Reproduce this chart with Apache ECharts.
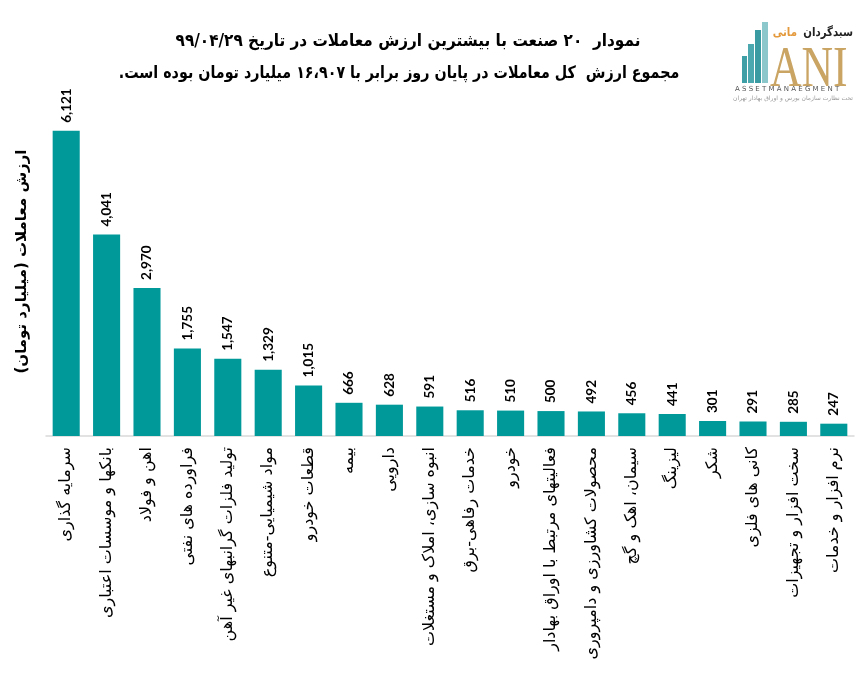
<!DOCTYPE html>
<html>
<head>
<meta charset="utf-8">
<script src="https://cdn.jsdelivr.net/npm/echarts@6/dist/echarts.min.js"></script>
<style>
  html, body { margin: 0; padding: 0; background: #fff; }
  #main { width: 863px; height: 676px; }
</style>
</head>
<body>
<div id="main"></div>
<script>
const RLE = '\u202B', PDF = '\u202C';

const industries = [
  'سرمایه گذاری',
  'بانکها و موسسات اعتباری',
  'اهن و فولاد',
  'فراورده های نفتی',
  'تولید فلزات گرانبهای غیر آهن',
  'مواد شیمیایی‑متنوع',
  'قطعات خودرو',
  'بیمه',
  'دارویی',
  'انبوه سازی، املاک و مستغلات',
  'خدمات رفاهی‑برق',
  'خودرو',
  'فعالیتهای مرتبط با اوراق بهادار',
  'محصولات کشاورزی و دامپروری',
  'سیمان، اهک و گچ',
  'لیزینگ',
  'شکر',
  'کانی های فلزی',
  'سخت افزار و تجهیزات',
  'نرم افزار و خدمات'
];
const tradeValues = [6121, 4041, 2970, 1755, 1547, 1329, 1015, 666, 628, 591, 516, 510, 500, 492, 456, 441, 301, 291, 285, 247];

const titleLines = [
  'نمودار  ۲۰ صنعت با بیشترین ارزش معاملات در تاریخ ۹۹/۰۴/۲۹',
  'مجموع ارزش  کل معاملات در پایان روز برابر با ۱۶،۹۰۷ میلیارد تومان بوده است.'
];
const yAxisTitle = 'ارزش معاملات (میلیارد تومان)';

const faFont = '"DejaVu Sans", sans-serif';
const teal = '#009999';

const chart = echarts.init(document.getElementById('main'));

chart.setOption({
  animation: false,
  backgroundColor: '#fff',
  grid: { left: 46, right: 9, top: 87, bottom: 240 },
  xAxis: {
    type: 'category',
    data: industries,
    axisLine: { lineStyle: { color: '#d9d9d9', width: 1.5 } },
    axisTick: { show: false },
    axisLabel: {
      interval: 0,
      rotate: 90,
      margin: 11,
      color: '#000',
      fontSize: 16,
      fontFamily: faFont,
      formatter: v => RLE + v + PDF
    }
  },
  yAxis: {
    type: 'value',
    min: 0,
    max: 7000,
    axisLabel: { show: false },
    axisLine: { show: false },
    axisTick: { show: false },
    splitLine: { show: false },
    name: RLE + yAxisTitle + PDF,
    nameLocation: 'middle',
    nameRotate: 90,
    nameGap: 16,
    nameTextStyle: { color: '#000', fontSize: 15, fontFamily: faFont, fontWeight: 'bold' }
  },
  series: [{
    type: 'bar',
    data: tradeValues,
    barCategoryGap: '33%',
    itemStyle: { color: teal },
    label: {
      show: true,
      position: 'top',
      rotate: 90,
      align: 'left',
      verticalAlign: 'middle',
      distance: 8,
      color: '#000',
      fontSize: 13.5,
      fontWeight: 'bold',
      fontFamily: 'Lato, sans-serif',
      formatter: p => p.value.toLocaleString('en-US')
    }
  }],
  graphic: [
    {
      type: 'text', x: 408, y: 42, scaleX: 0.9, originX: 0,
      style: { text: RLE + titleLines[0] + PDF, font: 'bold 17px ' + faFont, fill: '#000', align: 'center', verticalAlign: 'middle' }
    },
    {
      type: 'text', x: 399, y: 74, scaleX: 0.84, originX: 0,
      style: { text: RLE + titleLines[1] + PDF, font: 'bold 17px ' + faFont, fill: '#000', align: 'center', verticalAlign: 'middle' }
    },
    // logo
    { type: 'rect', shape: { x: 742, y: 56, width: 5, height: 27 }, style: { fill: '#3f9fa6' } },
    { type: 'rect', shape: { x: 748, y: 44, width: 6, height: 39 }, style: { fill: '#4aa8ae' } },
    { type: 'rect', shape: { x: 755, y: 30, width: 6, height: 53 }, style: { fill: '#3a9ba2' } },
    { type: 'rect', shape: { x: 762, y: 22, width: 6, height: 61 }, style: { fill: '#8cc7cb' } },
    {
      type: 'text', x: 770, y: 43, scaleX: 0.78,
      style: { text: 'ANI', font: '56px "Liberation Serif", serif', fill: '#c9a463' }
    },
    {
      type: 'text', x: 853, y: 27, scaleX: 0.85, originX: 0,
      style: { text: RLE + 'سبدگردان' + PDF, font: 'bold 12px ' + faFont, fill: '#222', align: 'right' }
    },
    {
      type: 'text', x: 797, y: 27, scaleX: 0.85, originX: 0,
      style: { text: RLE + 'مانی' + PDF, font: 'bold 12px ' + faFont, fill: '#e49a3c', align: 'right' }
    },
    {
      type: 'text', x: 735, y: 86,
      style: { text: 'A S S E T M A N A E G M E N T', font: '7px "DejaVu Sans", sans-serif', fill: '#555' }
    },
    {
      type: 'text', x: 853, y: 95,
      style: { text: RLE + 'تحت نظارت سازمان بورس و اوراق بهادار تهران' + PDF, font: '6px ' + faFont, fill: '#999', align: 'right' }
    }
  ]
});

window.addEventListener('resize', () => chart.resize());
</script>
</body>
</html>
